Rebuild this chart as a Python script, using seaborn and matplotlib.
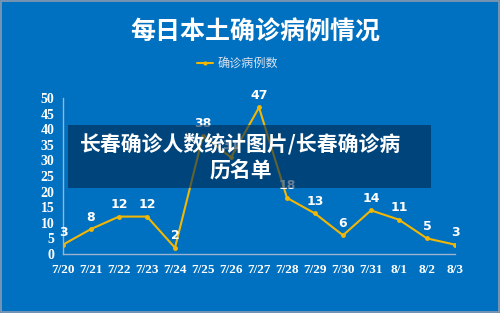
import matplotlib
matplotlib.use("Agg")
import matplotlib.pyplot as plt
import seaborn as sns
import pandas as pd
from matplotlib.patches import Rectangle

dates = ["7/20", "7/21", "7/22", "7/23", "7/24", "7/25", "7/26", "7/27",
         "7/28", "7/29", "7/30", "7/31", "8/1", "8/2", "8/3"]
cases = [3, 8, 12, 12, 2, 38, 31, 47, 18, 13, 6, 14, 11, 5, 3]
yticks = [0, 5, 10, 15, 20, 25, 30, 35, 40, 45, 50]

title = "每日本土确诊病例情况"
series_name = "确诊病例数"
overlay_text = "长春确诊人数统计图片/长春确诊病\n历名单"

sns.set_theme(style="white")
plt.rcParams['font.family'] = ['Noto Sans CJK SC', 'DejaVu Sans']

BG = "#0070C0"
LINE = "#F2B705"

fig = plt.figure(figsize=(5.0, 3.13), dpi=100, facecolor=BG)
ax = fig.add_axes([0.126, 0.1885, 0.784, 0.498])
ax.set_facecolor(BG)

df = pd.DataFrame({"idx": range(len(dates)), "date": dates, series_name: cases})
sns.lineplot(data=df, x="idx", y=series_name, ax=ax, color=LINE, linewidth=1.5,
             marker="o", markersize=3.5, markeredgewidth=0, label=series_name,
             legend=False)

for i, v in zip(df["idx"], df[series_name]):
    ax.annotate(str(v), (i, v), xytext=(0, 4), textcoords="offset points",
                ha="center", va="bottom", color="white", fontsize=9,
                fontweight="bold", family=["DejaVu Sans"])

ax.set_xlim(0, len(dates) - 1)
ax.set_ylim(0, 50)
ax.set_yticks(yticks)
ax.set_yticklabels([str(t) for t in yticks], family=["Liberation Serif"],
                   fontweight="bold", fontsize=10, color="white")
ax.set_xticks(list(df["idx"]))
ax.set_xticklabels(dates, family=["Liberation Serif"], fontweight="bold",
                   fontsize=9.5, color="white")
ax.tick_params(axis="x", length=0, pad=7)
ax.tick_params(axis="y", length=0, pad=6)
ax.set_xlabel("")
ax.set_ylabel("")
for s in ["top", "right"]:
    ax.spines[s].set_visible(False)
for s in ["left", "bottom"]:
    ax.spines[s].set_color("#9DB3CF")
    ax.spines[s].set_linewidth(1.0)

# title and legend
fig.text(0.51, 0.895, title, ha="center", va="center", color="white",
         fontsize=18, fontweight="heavy")
fig.lines.append(plt.Line2D([0.394, 0.426], [0.798, 0.798], transform=fig.transFigure,
                            color=LINE, linewidth=1.5))
fig.lines.append(plt.Line2D([0.41], [0.798], transform=fig.transFigure,
                            color=LINE, marker="o", markersize=3, markeredgewidth=0))
fig.text(0.436, 0.798, series_name, ha="left", va="center", color="#D8E2EE",
         fontsize=8.7)

# overlay box
fig.patches.append(Rectangle((0.136, 0.399), 0.726, 0.201, transform=fig.transFigure,
                             facecolor="#002850", alpha=0.6, edgecolor="none", zorder=5))
fig.text(0.482, 0.50, overlay_text, ha="center", va="center", color="white",
         fontsize=15, fontweight="heavy", linespacing=1.3, zorder=6)

# border
fig.patches.append(Rectangle((0.001, 0.002), 0.997, 0.995, transform=fig.transFigure,
                             facecolor="none", edgecolor="#8A9BB0", linewidth=1.2, zorder=10))

fig.savefig("out.png", dpi=100, facecolor=BG)
